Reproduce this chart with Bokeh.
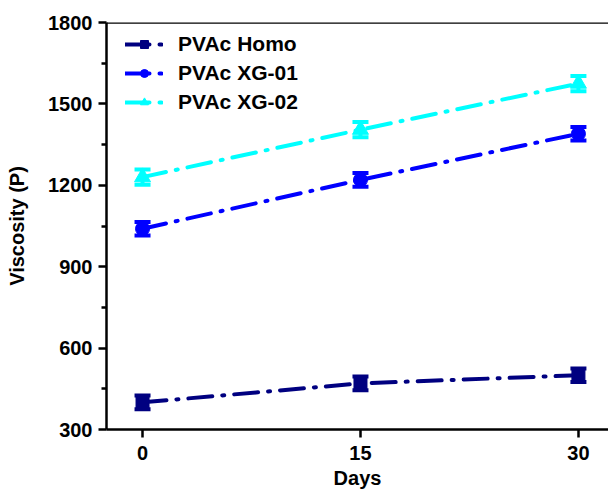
from bokeh.plotting import figure
from bokeh.models import ColumnDataSource, Whisker, TeeHead, Range1d, Span, FixedTicker, Legend, LegendItem
from bokeh.embed import file_html
from bokeh.resources import INLINE

days = [0, 15, 30]
homo = [400, 470, 500]
homo_err = [25, 25, 25]
xg01 = [1040, 1220, 1390]
xg01_err = [25, 25, 25]
xg02 = [1230, 1405, 1575]
xg02_err = [28, 28, 28]
names = ["PVAc Homo", "PVAc XG-01", "PVAc XG-02"]
colors = ["#000080", "#0000FF", "#00FFFF"]
y_ticks = [300, 600, 900, 1200, 1500, 1800]
x_ticks = [0, 15, 30]

FONT = "Liberation Sans"

p = figure(width=608, height=491, output_backend="svg", toolbar_location=None,
           x_range=Range1d(-2.48, 32.07), y_range=Range1d(300, 1800),
           min_border_left=106, min_border_right=0, min_border_top=22, min_border_bottom=62)
p.outline_line_color = None
p.grid.visible = False
p.background_fill_color = "white"
p.border_fill_color = "white"

series = [(homo, homo_err), (xg01, xg01_err), (xg02, xg02_err)]
markers = ["square", "circle", "triangle"]
msizes = [13, 14, 16]
items = []
for (vals, errs), c, m, ms, name in zip(series, colors, markers, msizes, names):
    src = ColumnDataSource(dict(x=days, y=vals,
                                upper=[v + e for v, e in zip(vals, errs)],
                                lower=[v - e for v, e in zip(vals, errs)]))
    ln = p.line("x", "y", source=src, line_color=c, line_width=4,
                line_dash="24 10 2 10", line_cap="round")
    sc = p.scatter("x", "y", source=src, marker=m, size=ms, fill_color=c, line_color=c)
    w = Whisker(source=src, base="x", upper="upper", lower="lower",
                line_color=c, line_width=4,
                upper_head=TeeHead(size=16, line_color=c, line_width=4),
                lower_head=TeeHead(size=16, line_color=c, line_width=4))
    p.add_layout(w)
    items.append(LegendItem(label=name, renderers=[ln, sc]))

legend = Legend(items=items, location=(19, 315), border_line_color=None,
                background_fill_alpha=0, label_text_font=FONT, label_text_font_style="bold",
                label_text_font_size="21px", label_text_color="black",
                glyph_width=38, spacing=5, margin=0,
                padding=4, label_standoff=15)
p.add_layout(legend)

top = Span(location=1800, dimension="width", line_color="black", line_width=2.5)
p.add_layout(top)

p.xaxis.ticker = FixedTicker(ticks=x_ticks, minor_ticks=[])
p.yaxis.ticker = FixedTicker(ticks=y_ticks, minor_ticks=[450, 750, 1050, 1350, 1650])
for ax in (p.xaxis[0], p.yaxis[0]):
    ax.axis_line_width = 2.5
    ax.axis_line_color = "black"
    ax.major_tick_line_color = "black"
    ax.minor_tick_line_color = "black"
    ax.major_tick_line_width = 2.5
    ax.minor_tick_line_width = 2.5
    ax.major_tick_in = 0
    ax.major_tick_out = 8
    ax.minor_tick_in = 0
    ax.minor_tick_out = 5
    ax.major_label_text_font = FONT
    ax.major_label_text_font_style = "bold"
    ax.major_label_text_font_size = "20px"
    ax.major_label_text_color = "black"
    ax.axis_label_text_font = FONT
    ax.axis_label_text_font_style = "bold"
    ax.axis_label_text_font_size = "20px"
    ax.axis_label_text_color = "black"
p.xaxis.axis_label = "Days"
p.yaxis.axis_label = "Viscosity (P)"
p.xaxis.major_label_standoff = 8
p.xaxis.axis_label_standoff = 4
p.yaxis.major_label_standoff = 6
p.yaxis.axis_label_standoff = 17

open("out.html", "w").write(file_html(p, INLINE))
